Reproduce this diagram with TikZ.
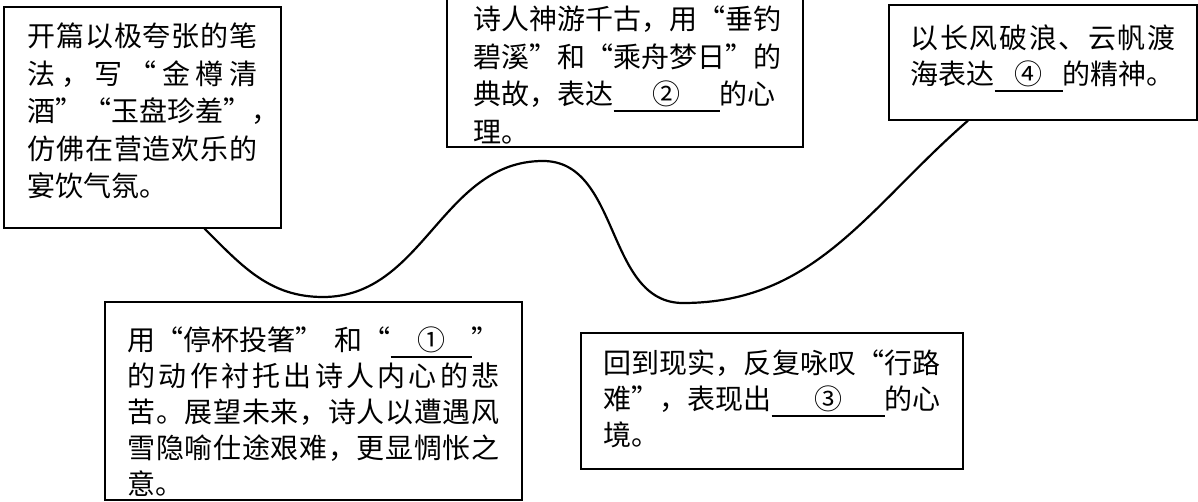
\documentclass[tikz,border=0pt]{standalone}
\usepackage{fontspec}
\newfontfamily\cjk{Noto Sans CJK SC}
\newcommand\fillin[2]{\rlap{\rule[-3.5pt]{#1}{0.9pt}}\makebox[#1]{#2}}
\newcommand\jline[1]{\makebox[\linewidth][s]{\jfirst#1\relax}}
\def\jfirst#1{#1\jrest}
\def\jrest#1{\ifx\relax#1\else\hfil#1\expandafter\jrest\fi}

\begin{document}
\begin{tikzpicture}[
  x=0.5pt, y=-0.5pt,
  every node/.style={
    draw, line width=0.6pt, align=left, inner ysep=0pt, text height=12pt,
    font=\cjk\fontsize{14pt}{18pt}\selectfont
  },
  loose/.style={font=\cjk\fontsize{14pt}{18.8pt}\selectfont},
  wave/.style={line width=1.1pt}
  ]
  \useasboundingbox (0,0) rectangle (1198,502);
  \node[loose, inner xsep=11.5pt, text width=115pt, text depth=83pt,
    minimum width=138.5pt, minimum height=110.5pt] (feast) at (142.5,117.5) {
    \jline{开篇以极夸张的笔}\\
    \jline{法，写“金樽清}\\
    \jline{酒”“玉盘珍羞”，}\\
    \jline{仿佛在营造欢乐的}\\
    宴饮气氛。
  };
  \node[loose, inner xsep=13.25pt, text width=151.5pt, text depth=50.9pt,
    minimum width=178pt, minimum height=78.5pt] (dream) at (625,68.5) {
    \jline{诗人神游千古，用“垂钓}\\
    \jline{碧溪”和“乘舟梦日”的}\\
    典故，表达\fillin{53pt}{②}的心\\
    理。
  };
  \node[inner xsep=10.75pt, text width=132.5pt, text depth=25.9pt,
    minimum width=154pt, minimum height=57.5pt] (hope) at (1043,62.5) {
    \jline{以长风破浪、云帆渡}\\
    海表达\fillin{34pt}{④}的精神。
  };
  \node[inner xsep=11.25pt, text width=186pt, text depth=62.4pt,
    minimum width=208.5pt, minimum height=99pt] (halt) at (313.5,401) {
    用“停杯投箸”\hfill 和“\fillin{40.5pt}{①}”\\
    \jline{的动作衬托出诗人内心的悲}\\
    \jline{苦。展望未来，诗人以遭遇风}\\
    \jline{雪隐喻仕途艰难，更显惆怅之}\\
    意。
  };
  \node[inner xsep=11.25pt, text width=168.5pt, text depth=39.4pt,
    minimum width=191pt, minimum height=68pt] (road) at (772,401) {
    \jline{回到现实，反复咏叹“行路}\\
    难”，表现出\fillin{56.5pt}{③}的心\\
    境。
  };
  \coordinate (start) at ([xshift=31pt]feast.south);
  \coordinate (low1) at (323,297);
  \coordinate (peak) at (543,161);
  \coordinate (low2) at (683,303);
  \coordinate (finish) at ([xshift=-37.5pt]hope.south);
  \draw[wave] (start) to[out=-45,in=180] (low1)
    to[out=0,in=180] (peak)
    to[out=0,in=180] (low2)
    to[out=0,in=-139] (finish);
\end{tikzpicture}
\end{document}
